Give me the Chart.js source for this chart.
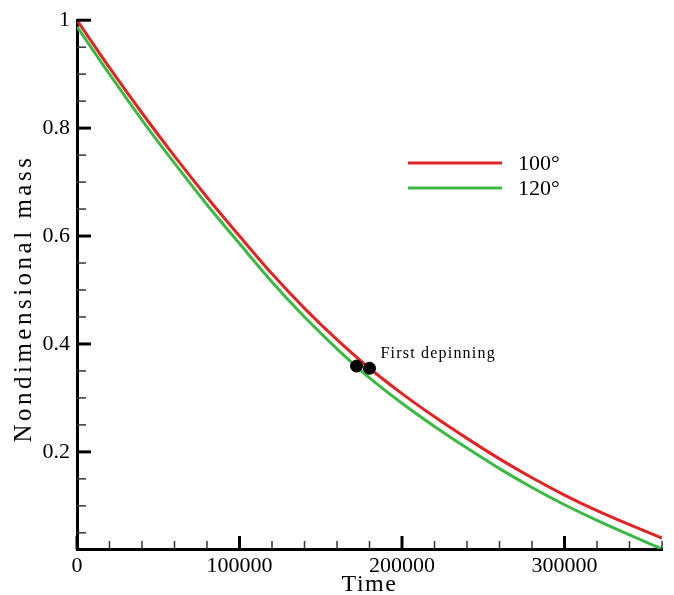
<!DOCTYPE html>
<html>
<head>
<meta charset="utf-8">
<script src="https://cdn.jsdelivr.net/npm/chart.js@4/dist/chart.umd.min.js"></script>
<style>
    html, body { margin: 0; padding: 0; background: #ffffff; }
    #chart-mass { display: block; }
</style>
</head>
<body>
<canvas id="chart-mass" width="674" height="595"></canvas>
<script>
// values
const time = [0, 20000, 40000, 60000, 80000, 100000, 120000, 140000, 160000, 180000,
    200000, 220000, 240000, 260000, 280000, 300000, 320000, 340000, 360000];
const mass100 = [1.000, 0.912, 0.828, 0.748, 0.672, 0.600, 0.530, 0.466, 0.408, 0.355,
    0.308, 0.265, 0.225, 0.187, 0.152, 0.120, 0.091, 0.065, 0.040];
const mass120 = [0.988, 0.900, 0.815, 0.735, 0.658, 0.586, 0.515, 0.450, 0.391, 0.337,
    0.290, 0.247, 0.207, 0.169, 0.134, 0.102, 0.073, 0.046, 0.020];

const depinTime = [172000, 180000];
const depinMass = [0.359, 0.355];

const seriesLabels = ['100°', '120°'];
const xTickLabels = [0, 100000, 200000, 300000];
const yTickLabels = [0.2, 0.4, 0.6, 0.8, 1];

const red = '#e02424';
const green = '#3cb944';
const serif = "'Liberation Serif', 'DejaVu Serif', serif";

const toPoints = (xs, ys) => xs.map((x, i) => ({ x, y: ys[i] }));

// inward tick marks, legend, axis titles and annotation
const decorPlugin = {
    id: 'decor',
    afterDraw(chart) {
        const { ctx, chartArea, scales } = chart;
        const xs = scales.x;
        const ys = scales.y;
        ctx.save();

        const tick = (x1, y1, x2, y2, width, color) => {
            ctx.beginPath();
            ctx.strokeStyle = color;
            ctx.lineWidth = width;
            ctx.moveTo(x1, y1);
            ctx.lineTo(x2, y2);
            ctx.stroke();
        };

        for (let v = 0; v <= xs.max; v += 20000) {
            const px = xs.getPixelForValue(v);
            if (v % 100000 === 0) {
                tick(px, chartArea.bottom, px, chartArea.bottom - 13, 3, '#000');
            } else {
                tick(px, chartArea.bottom, px, chartArea.bottom - 8, 1.5, '#333');
            }
        }
        for (let k = 1; k <= 20; k++) {
            const v = k * 0.05;
            if (v < ys.min) continue;
            const py = ys.getPixelForValue(v);
            if (k % 4 === 0) {
                tick(chartArea.left, py, chartArea.left + 14, py, 3, '#000');
            } else {
                tick(chartArea.left, py, chartArea.left + 9, py, 1.5, '#333');
            }
        }

        // legend
        ctx.fillStyle = '#000';
        ctx.font = '22px ' + serif;
        ctx.textBaseline = 'alphabetic';
        ctx.textAlign = 'left';
        chart.data.datasets
            .filter((ds) => seriesLabels.includes(ds.label))
            .forEach((ds, i) => {
                const y = 163 + i * 25;
                tick(408, y, 502, y, 3, ds.borderColor);
                ctx.fillText(ds.label, 518, y + 7);
            });

        // annotation
        ctx.font = '16px ' + serif;
        ctx.letterSpacing = '1.2px';
        ctx.fillText('First depinning', xs.getPixelForValue(depinTime[1]) + 11, ys.getPixelForValue(depinMass[1]) - 10);

        // axis titles
        ctx.font = '24px ' + serif;
        ctx.letterSpacing = '1.5px';
        ctx.textAlign = 'center';
        ctx.textBaseline = 'middle';
        ctx.fillText('Time', (chartArea.left + chartArea.right) / 2, 585);

        ctx.font = '25px ' + serif;
        ctx.letterSpacing = '3.5px';
        ctx.translate(24, (chartArea.top + chartArea.bottom) / 2 + 14);
        ctx.rotate(-Math.PI / 2);
        ctx.fillText('Nondimensional mass', 0, 0);
        ctx.restore();
    },
};

new Chart(document.getElementById('chart-mass'), {
    type: 'line',
    data: {
        datasets: [
            {
                type: 'scatter',
                label: 'depinning',
                data: toPoints(depinTime, depinMass),
                backgroundColor: '#000',
                borderColor: '#000',
                pointRadius: 6,
                showLine: false,
                order: 0,
            },
            {
                label: seriesLabels[0],
                data: toPoints(time, mass100),
                borderColor: red,
                borderWidth: 3,
                pointRadius: 0,
                cubicInterpolationMode: 'monotone',
                order: 1,
            },
            {
                label: seriesLabels[1],
                data: toPoints(time, mass120),
                borderColor: green,
                borderWidth: 3,
                pointRadius: 0,
                cubicInterpolationMode: 'monotone',
                order: 2,
            },
        ],
    },
    options: {
        responsive: false,
        animation: false,
        layout: {
            padding: { top: 16, right: 12, left: 0, bottom: 0 },
        },
        plugins: {
            legend: { display: false },
            tooltip: { enabled: false },
        },
        scales: {
            x: {
                type: 'linear',
                min: 0,
                max: 360000,
                afterFit: (scale) => { scale.height = 46; },
                afterBuildTicks: (scale) => { scale.ticks = xTickLabels.map((value) => ({ value })); },
                ticks: {
                    color: '#000',
                    font: { family: serif, size: 22 },
                    padding: 4,
                    maxRotation: 0,
                    callback: (value) => String(value),
                },
                grid: { display: false, drawTicks: false },
                border: { display: true, color: '#000', width: 3 },
            },
            y: {
                type: 'linear',
                min: 0.02,
                max: 1,
                afterFit: (scale) => { scale.width = 77; },
                afterBuildTicks: (scale) => { scale.ticks = yTickLabels.map((value) => ({ value })); },
                ticks: {
                    color: '#000',
                    font: { family: serif, size: 22 },
                    padding: 7,
                    callback: (value) => String(value),
                },
                grid: { display: false, drawTicks: false },
                border: { display: true, color: '#000', width: 3 },
            },
        },
    },
    plugins: [decorPlugin],
});
</script>
</body>
</html>
